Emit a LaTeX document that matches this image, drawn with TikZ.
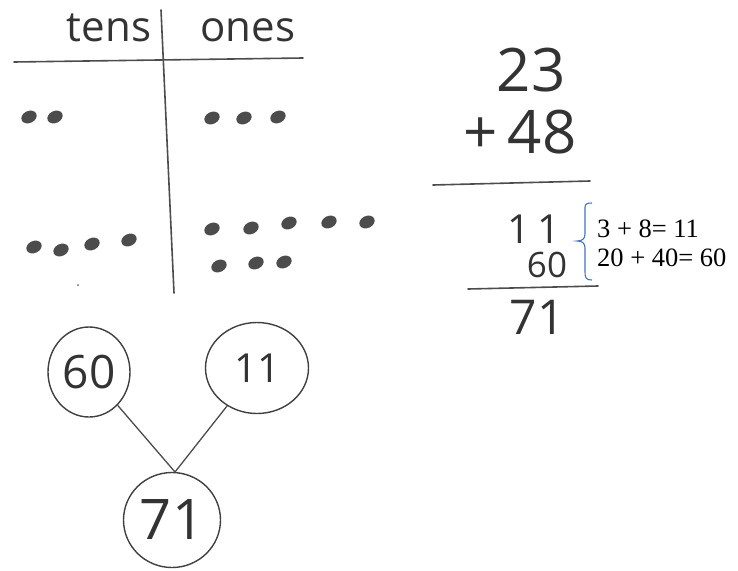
\documentclass[tikz,border=0pt]{standalone}
\usepackage{fontspec}
\usetikzlibrary{shapes.geometric}
\setmainfont{Liberation Serif}
\newfontfamily\hand{Open Sans}
\begin{document}
\begin{tikzpicture}[x=1pt,y=-1pt,
  pen/.style={draw=black!70,line width=1.6pt,line cap=round},
  dot/.style={fill=black!70,draw=none},
  hw/.style={font=\hand, text=black!80, inner sep=0pt},
  ring/.style={draw=black!75,line width=1.4pt,ellipse,inner sep=0pt},
  typed/.style={font=\fontsize{26.5}{29}\selectfont, inner sep=0pt, anchor=west}]
\useasboundingbox (0,0) rectangle (738,570);
% place value chart
\coordinate (h1) at (14,62); \coordinate (h2) at (303,58);
\coordinate (v1) at (161,10); \coordinate (v2) at (174,293);
\draw[pen] (h1) -- (h2);
\draw[pen] (v1) -- (v2);
\node[hw,font=\hand\fontsize{42}{42}\selectfont] (tens) at (109,28) {tens};
\node[hw,font=\hand\fontsize{42}{42}\selectfont] (ones) at (248,30) {ones};
\foreach \p in {(29,117),(55,117),(212,118),(244,118),(278,117),
  (34,247),(61,250),(92,244),(129,240),
  (212,229),(251,228),(289,223),(329,222),(367,222),
  (219,266),(256,263),(284,262)}
  \fill[dot,rotate around={25:\p}] \p ellipse (8pt and 6pt);
\fill[black!60] (78,285) circle (1pt);
% column addition
\node[hw,font=\hand\fontsize{60}{60}\selectfont] (n23) at (531,70) {23};
\node[hw,font=\hand\fontsize{60}{60}\selectfont] (n48) at (520,132) {+\,48};
\coordinate (l1a) at (433,185); \coordinate (l1b) at (590,181);
\draw[pen] (l1a) -- (l1b);
\node[hw,font=\hand\fontsize{40}{40}\selectfont] (n11) at (534,229) {1\,1};
\node[hw,font=\hand\fontsize{35}{35}\selectfont] (n60) at (547,265) {60};
\coordinate (l2a) at (468,289); \coordinate (l2b) at (598,286);
\draw[pen] (l2a) -- (l2b);
\node[hw,font=\hand\fontsize{48}{48}\selectfont] (n71) at (537,317) {71};
% brace
\draw[draw={rgb,255:red,68;green,114;blue,196},line width=1.1pt]
  (592,203) .. controls (584,203) and (585,205) .. (585,212) -- (585,234)
  .. controls (585,239) and (582,241) .. (577,241)
  .. controls (582,241) and (585,243) .. (585,248) -- (585,272)
  .. controls (585,278) and (586,280) .. (592,280);
\node[typed] (e1) at (597,229) {3 + 8= 11};
\node[typed] (e2) at (597,258) {20 + 40= 60};
% number bond
\node[ring,minimum width=82pt,minimum height=90pt] (c60) at (89,372) {};
\node[hw,font=\hand\fontsize{46}{46}\selectfont] at (c60.center) {60};
\node[ring,minimum width=103pt,minimum height=91pt] (c11) at (257,368) {};
\node[hw,font=\hand\fontsize{40}{40}\selectfont] at (c11.center) {11};
\node[ring,minimum width=97pt,minimum height=95pt] (c71) at (172,520) {};
\node[hw,font=\hand\fontsize{56}{56}\selectfont] at (c71.center) {71};
\coordinate (j) at (175,472);
\draw[draw=black!70,line width=1.3pt] (c60) -- (j);
\draw[draw=black!70,line width=1.3pt] (c11) -- (j);
\end{tikzpicture}
\end{document}
